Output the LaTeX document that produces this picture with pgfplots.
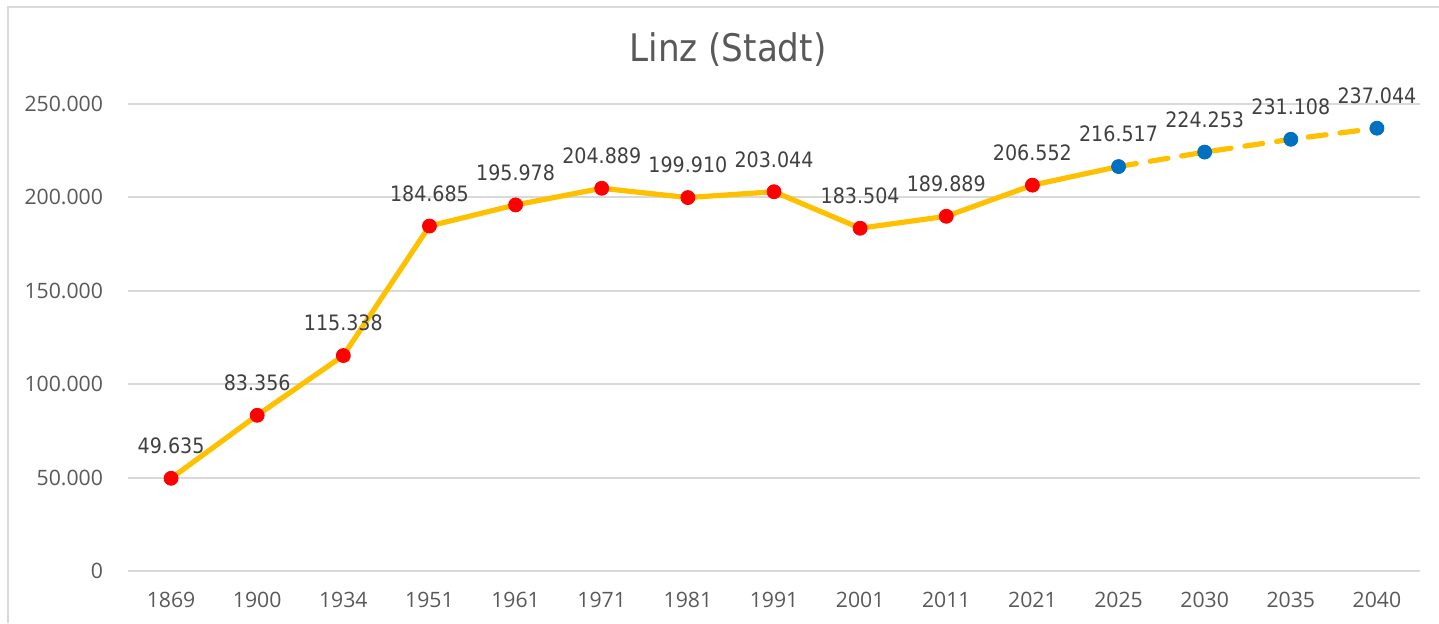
\documentclass[border=0pt]{standalone}
\usepackage{fontspec}
\setmainfont{Open Sans}
\newfontfamily\labfont{DejaVu Sans Condensed}
\usepackage{pgfplots}
\pgfplotsset{compat=1.18}
\definecolor{lineyellow}{HTML}{FFC000}
\definecolor{ptred}{HTML}{FF0000}
\definecolor{ptblue}{HTML}{0070C0}
\definecolor{gridgray}{HTML}{D9D9D9}
\definecolor{tickgray}{HTML}{595959}
\definecolor{labgray}{HTML}{404040}
\begin{document}
\begin{tikzpicture}
\useasboundingbox (0,0) rectangle (719.5pt,311.5pt);
\draw[gridgray, line width=1pt] (4pt,0) -- (4pt,308pt) -- (719.5pt,308pt);
\node[text=tickgray, font=\labfont\fontsize{19}{22}\selectfont] at (364pt,286.5pt) {Linz (Stadt)};
\begin{axis}[
  at={(64pt,26pt)}, anchor=south west,
  scale only axis, width=646pt, height=233.5pt,
  xmin=-0.5, xmax=14.5, ymin=0, ymax=250000,
  xtick={0,...,14},
  xticklabels={1869,1900,1934,1951,1961,1971,1981,1991,2001,2011,2021,2025,2030,2035,2040},
  ytick={0,50000,100000,150000,200000,250000},
  scaled y ticks=false,
  axis line style={draw=none},
  major tick length=0pt,
  ymajorgrids, grid style={gridgray, line width=1pt},
  tick label style={text=tickgray, font=\fontsize{10.6}{12}\selectfont},
  xticklabel style={yshift=-7pt},
  yticklabel style={xshift=-9pt},
  /pgf/number format/fixed,
  /pgf/number format/precision=0,
  /pgf/number format/1000 sep={.},
  /pgf/number format/assume math mode=true,
  clip=false,
  nodes near coords style={anchor=south, inner sep=0pt, yshift=12pt, text=labgray, font=\labfont\fontsize{10.6}{12}\selectfont},
]
\addplot[lineyellow, line width=2.6pt, line join=round, line cap=round, no marks] coordinates {
(0,49635) (1,83356) (2,115338) (3,184685) (4,195978) (5,204889) (6,199910) (7,203044) (8,183504) (9,189889) (10,206552) (11,216517)};
\addplot[lineyellow, line width=2.6pt, line cap=round, dash pattern=on 9pt off 7pt, no marks] coordinates {
(11,216517) (12,224253) (13,231108) (14,237044)};
\addplot[only marks, mark=*, mark size=3.5pt, mark options={fill=ptred, draw=ptred}, nodes near coords] coordinates {
(0,49635) (1,83356) (2,115338) (3,184685) (4,195978) (5,204889) (6,199910) (7,203044) (8,183504) (9,189889) (10,206552)};
\addplot[only marks, mark=*, mark size=3.5pt, mark options={fill=ptblue, draw=ptblue}, nodes near coords] coordinates {
(11,216517) (12,224253) (13,231108) (14,237044)};
\end{axis}
\end{tikzpicture}
\end{document}
